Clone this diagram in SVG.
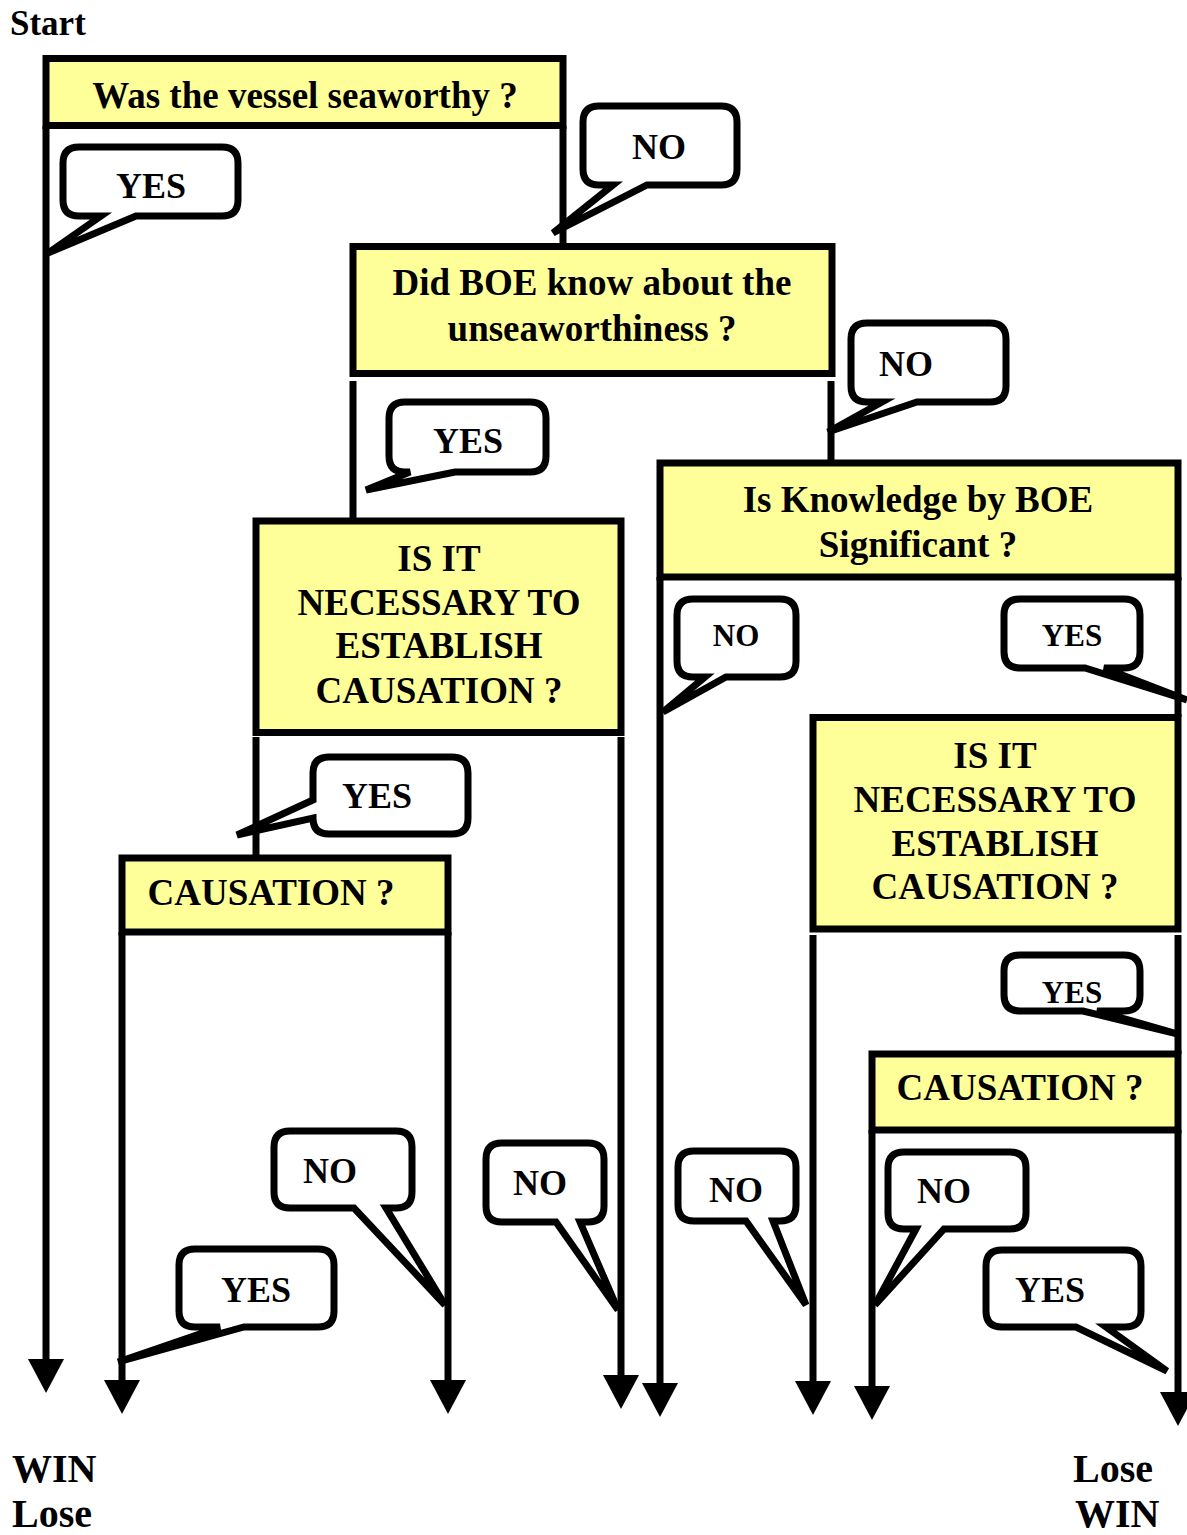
<svg xmlns="http://www.w3.org/2000/svg" width="1187" height="1535" viewBox="0 0 1187 1535">
  <style>
    .box { fill: #ffff99; stroke: #000; stroke-width: 7; }
    .bubble { fill: #fff; stroke: #000; stroke-width: 7; stroke-linejoin: miter; stroke-miterlimit: 4; }
    .conn { stroke: #000; stroke-width: 7; fill: none; }
    .t { font-family: "Liberation Serif", "Times New Roman", serif; font-weight: bold; fill: #000; text-anchor: middle; }
    .big { font-size: 37px; }
    .lbl { font-size: 36px; }
    .sm { font-size: 31px; }
    .end { font-family: "Liberation Serif", "Times New Roman", serif; font-weight: bold; font-size: 40px; fill: #000; }
    .start { font-size: 35px; }
  </style>
  <defs>
    <marker id="arrow" viewBox="0 0 34 36" refX="0" refY="18" markerWidth="34" markerHeight="36" markerUnits="userSpaceOnUse" orient="auto">
      <path d="M0,0 L34,18 L0,36 Z" fill="#000"/>
    </marker>
    <path id="b8shape" d="M1020,955 H1124 Q1140,955 1140,971 V995 Q1140,1011 1124,1011 H1097 L1178,1034 L1083,1011 H1020 Q1004,1011 1004,995 V971 Q1004,955 1020,955 Z"/>
  </defs>

  <rect width="1187" height="1535" fill="#fff"/>

  <!-- branch lines -->
  <g id="connectors">
    <line class="conn" x1="46" y1="126" x2="46" y2="1359" marker-end="url(#arrow)"/>
    <line class="conn" x1="563" y1="126" x2="563" y2="246"/>
    <line class="conn" x1="353" y1="381" x2="353" y2="521"/>
    <line class="conn" x1="831" y1="381" x2="831" y2="463"/>
    <line class="conn" x1="256" y1="737" x2="256" y2="858"/>
    <line class="conn" x1="621" y1="737" x2="621" y2="1375" marker-end="url(#arrow)"/>
    <line class="conn" x1="122" y1="932" x2="122" y2="1380" marker-end="url(#arrow)"/>
    <line class="conn" x1="448" y1="932" x2="448" y2="1380" marker-end="url(#arrow)"/>
    <line class="conn" x1="660" y1="577" x2="660" y2="1383" marker-end="url(#arrow)"/>
    <line class="conn" x1="1178" y1="577" x2="1178" y2="717"/>
    <line class="conn" x1="813" y1="935" x2="813" y2="1381" marker-end="url(#arrow)"/>
    <line class="conn" x1="1178" y1="935" x2="1178" y2="1054"/>
    <line class="conn" x1="872" y1="1130" x2="872" y2="1386" marker-end="url(#arrow)"/>
    <line class="conn" x1="1178" y1="1130" x2="1178" y2="1392" marker-end="url(#arrow)"/>
  </g>

  <!-- question boxes -->
  <g id="q-seaworthy">
    <rect class="box" x="46" y="58.5" width="517" height="67"/>
    <text class="t big" x="305" y="108">Was the vessel seaworthy ?</text>
  </g>
  <g id="q-boe-knew">
    <rect class="box" x="353" y="246.5" width="479" height="127"/>
    <text class="t big" x="592" y="295">Did BOE know about the</text>
    <text class="t big" x="592" y="341">unseaworthiness ?</text>
  </g>
  <g id="q-necessary-left">
    <rect class="box" x="256" y="521" width="365" height="211.5"/>
    <text class="t big" x="439" y="571">IS IT</text>
    <text class="t big" x="439" y="615">NECESSARY TO</text>
    <text class="t big" x="439" y="658">ESTABLISH</text>
    <text class="t big" x="439" y="703">CAUSATION ?</text>
  </g>
  <g id="q-causation-left">
    <rect class="box" x="122" y="858" width="326" height="74"/>
    <text class="t big" x="271" y="905">CAUSATION ?</text>
  </g>
  <g id="q-significant">
    <rect class="box" x="660" y="463" width="518" height="114"/>
    <text class="t big" x="918" y="512">Is Knowledge by BOE</text>
    <text class="t big" x="918" y="557">Significant ?</text>
  </g>
  <g id="q-necessary-right">
    <rect class="box" x="813" y="717.5" width="365" height="211.5"/>
    <text class="t big" x="995" y="768">IS IT</text>
    <text class="t big" x="995" y="812">NECESSARY TO</text>
    <text class="t big" x="995" y="856">ESTABLISH</text>
    <text class="t big" x="995" y="899">CAUSATION ?</text>
  </g>
  <g id="q-causation-right">
    <rect class="box" x="872" y="1054" width="306" height="76"/>
    <text class="t big" x="1020" y="1100">CAUSATION ?</text>
  </g>

  <!-- answer callouts -->
  <g id="a-seaworthy-yes">
    <path class="bubble" d="M79,147 H222 Q238,147 238,163 V200 Q238,216 222,216 H136 L48,253 L101,216 H79 Q63,216 63,200 V163 Q63,147 79,147 Z"/>
    <text class="t lbl" x="151" y="198">YES</text>
  </g>
  <g id="a-seaworthy-no">
    <path class="bubble" d="M599,106 H721 Q737,106 737,122 V169 Q737,185 721,185 H647 L553,233 L613,185 H599 Q583,185 583,169 V122 Q583,106 599,106 Z"/>
    <text class="t lbl" x="659" y="159">NO</text>
  </g>
  <g id="a-boe-no">
    <path class="bubble" d="M867,323 H990 Q1006,323 1006,339 V386 Q1006,402 990,402 H917 L828,432 L882,402 H867 Q851,402 851,386 V339 Q851,323 867,323 Z"/>
    <text class="t lbl" x="906" y="376">NO</text>
  </g>
  <g id="a-boe-yes">
    <path class="bubble" d="M405,402 H530 Q546,402 546,418 V456 Q546,472 530,472 H455 L366,490 L410,472 H405 Q389,472 389,456 V418 Q389,402 405,402 Z"/>
    <text class="t lbl" x="468" y="453">YES</text>
  </g>
  <g id="a-significant-no">
    <path class="bubble" d="M693,599 H780 Q796,599 796,615 V661 Q796,677 780,677 H726 L663,712 L705,677 H693 Q677,677 677,661 V615 Q677,599 693,599 Z"/>
    <text class="t sm" x="736" y="646">NO</text>
  </g>
  <g id="a-significant-yes">
    <path class="bubble" d="M1020,599 H1124 Q1140,599 1140,615 V652 Q1140,668 1124,668 H1104 L1187,700 L1085,668 H1020 Q1004,668 1004,652 V615 Q1004,599 1020,599 Z"/>
    <text class="t sm" x="1072" y="646">YES</text>
  </g>
  <g id="a-necessary-left-yes">
    <path class="bubble" d="M329,757 H452 Q468,757 468,773 V818 Q468,834 452,834 H329 Q313,834 313,818 L237,835 L313,800 V773 Q313,757 329,757 Z"/>
    <text class="t lbl" x="377" y="808">YES</text>
  </g>
  <g id="a-necessary-right-yes">
    <!-- label sits low in this callout; the outline is painted over it -->
    <use href="#b8shape" fill="#fff"/>
    <text class="t sm" x="1072" y="1003">YES</text>
    <use href="#b8shape" fill="none" stroke="#000" stroke-width="7" stroke-miterlimit="4"/>
  </g>
  <g id="a-causation-left-no">
    <path class="bubble" d="M290,1131 H396 Q412,1131 412,1147 V1192 Q412,1208 396,1208 H386 L445,1305 L354,1208 H290 Q274,1208 274,1192 V1147 Q274,1131 290,1131 Z"/>
    <text class="t lbl" x="330" y="1183">NO</text>
  </g>
  <g id="a-causation-left-yes">
    <path class="bubble" d="M195,1249 H318 Q334,1249 334,1265 V1311 Q334,1327 318,1327 H244 L118,1362 L220,1327 H195 Q179,1327 179,1311 V1265 Q179,1249 195,1249 Z"/>
    <text class="t lbl" x="256" y="1302">YES</text>
  </g>
  <g id="a-necessary-left-no">
    <path class="bubble" d="M502,1143 H588 Q604,1143 604,1159 V1206 Q604,1222 588,1222 H580 L618,1310 L556,1222 H502 Q486,1222 486,1206 V1159 Q486,1143 502,1143 Z"/>
    <text class="t lbl" x="540" y="1195">NO</text>
  </g>
  <g id="a-significant-bottom-no">
    <path class="bubble" d="M694,1151 H780 Q796,1151 796,1167 V1205 Q796,1221 780,1221 H773 L806,1305 L746,1221 H694 Q678,1221 678,1205 V1167 Q678,1151 694,1151 Z"/>
    <text class="t lbl" x="736" y="1202">NO</text>
  </g>
  <g id="a-causation-right-no">
    <path class="bubble" d="M904,1152 H1010 Q1026,1152 1026,1168 V1213 Q1026,1229 1010,1229 H944 L875,1305 L916,1229 H904 Q888,1229 888,1213 V1168 Q888,1152 904,1152 Z"/>
    <text class="t lbl" x="944" y="1203">NO</text>
  </g>
  <g id="a-causation-right-yes">
    <path class="bubble" d="M1002,1250 H1125 Q1141,1250 1141,1266 V1311 Q1141,1327 1125,1327 H1106 L1167,1371 L1076,1327 H1002 Q986,1327 986,1311 V1266 Q986,1250 1002,1250 Z"/>
    <text class="t lbl" x="1050" y="1302">YES</text>
  </g>

  <!-- start and outcome labels -->
  <g id="start">
    <text class="end start" x="10" y="35">Start</text>
  </g>
  <g id="outcome-left">
    <text class="end" x="12" y="1482">WIN</text>
    <text class="end" x="12" y="1527">Lose</text>
  </g>
  <g id="outcome-right">
    <text class="end" x="1073" y="1482">Lose</text>
    <text class="end" x="1075" y="1527">WIN</text>
  </g>
</svg>
